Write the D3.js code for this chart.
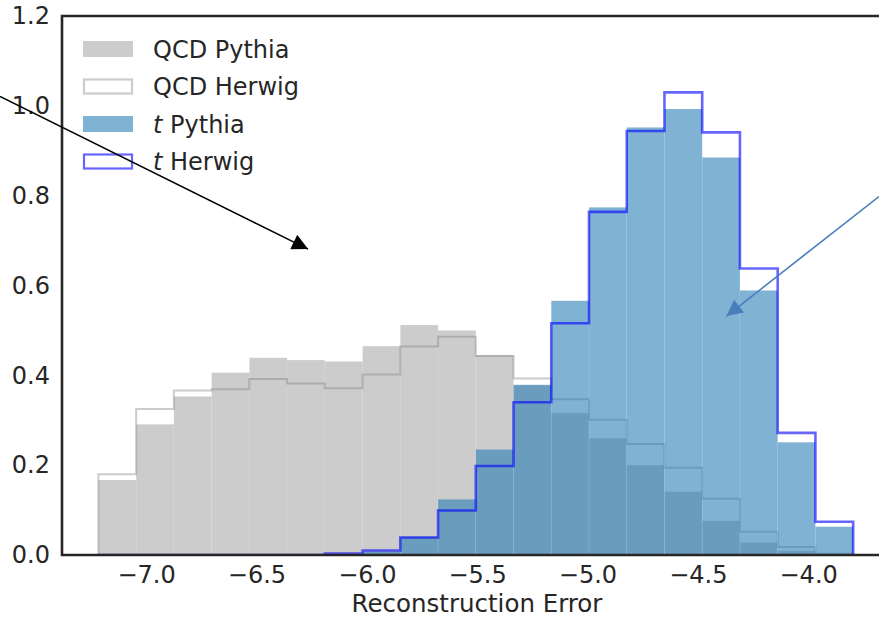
<!DOCTYPE html>
<html>
<head>
<meta charset="utf-8">
<title>Reconstruction Error</title>
<script src="https://d3js.org/d3.v7.min.js"></script>
<style>
body { margin: 0; background: #fff; }
svg text { font-family: "DejaVu Sans", sans-serif; fill: #262626; }
.axis text { font-size: 24px; }
.axis path { display: none; }
</style>
</head>
<body>
<svg width="879" height="620"></svg>
<script>

// bin edges (20 bins) shared by all four histograms
var binEdges = [-7.216, -7.045, -6.874, -6.703, -6.532, -6.361, -6.190, -6.019, -5.848, -5.677,
  -5.506, -5.335, -5.164, -4.993, -4.822, -4.651, -4.480, -4.309, -4.138, -3.967, -3.796];

var qcdPythia = [0.167, 0.291, 0.353, 0.406, 0.439, 0.434, 0.431, 0.465, 0.512, 0.500,
  0.445, 0.378, 0.316, 0.260, 0.200, 0.141, 0.076, 0.028, 0.009, 0.002];
var qcdHerwig = [0.180, 0.325, 0.366, 0.369, 0.392, 0.382, 0.371, 0.402, 0.464, 0.486,
  0.443, 0.393, 0.347, 0.301, 0.247, 0.194, 0.125, 0.052, 0.018, 0.003];
var tPythia = [0, 0, 0, 0, 0, 0, 0.002, 0.008, 0.041, 0.124,
  0.235, 0.379, 0.566, 0.774, 0.952, 0.993, 0.885, 0.589, 0.251, 0.063];
var tHerwig = [0, 0, 0, 0, 0, 0, 0.003, 0.010, 0.039, 0.099,
  0.198, 0.340, 0.516, 0.764, 0.944, 1.030, 0.941, 0.638, 0.272, 0.074];

var xTicks = [-7.0, -6.5, -6.0, -5.5, -5.0, -4.5, -4.0];
var yTicks = [0.0, 0.2, 0.4, 0.6, 0.8, 1.0, 1.2];

var legendItems = [
  {name: "QCD", gen: "Pythia", type: "fill", color: "grey", alpha: 0.4},
  {name: "QCD", gen: "Herwig", type: "step", color: "grey", alpha: 0.4},
  {name: "t", gen: "Pythia", type: "fill", color: "#1f77b4", alpha: 0.57},
  {name: "t", gen: "Herwig", type: "step", color: "blue", alpha: 0.6}
];

// annotation arrows, in data coordinates [x, y]
var arrowBlack = [[-7.662, 1.021], [-6.266, 0.681]];
var arrowBlue = [[-3.679, 0.798], [-4.370, 0.532]];

var svg = d3.select("svg"),
    margin = {top: 16, left: 62, bottom: 65},
    plotRight = 892,
    height = 620 - margin.top - margin.bottom;

var x = d3.scaleLinear()
    .domain([-7.381, -3.62])
    .range([margin.left, plotRight]);

var y = d3.scaleLinear()
    .domain([0, 1.2])
    .range([margin.top + height, margin.top]);

var defs = svg.append("defs");
defs.append("clipPath").attr("id", "plotclip")
  .append("rect")
    .attr("x", margin.left).attr("y", margin.top)
    .attr("width", plotRight - margin.left).attr("height", height);

function arrowMarker(id, color) {
  defs.append("marker")
      .attr("id", id)
      .attr("viewBox", "0 0 10 10")
      .attr("refX", 10).attr("refY", 5)
      .attr("markerUnits", "userSpaceOnUse")
      .attr("markerWidth", 17).attr("markerHeight", 16)
      .attr("orient", "auto")
    .append("path")
      .attr("d", "M0,0L10,5L0,10Z")
      .attr("fill", color);
}
arrowMarker("headBlack", "#000");
arrowMarker("headBlue", "#4a7ebb");

var plot = svg.append("g").attr("clip-path", "url(#plotclip)");

var bins = d3.range(binEdges.length - 1);

function bars(values, color, alpha) {
  plot.append("g")
    .selectAll("rect")
    .data(bins)
    .enter().append("rect")
      .attr("x", function(i) { return x(binEdges[i]); })
      .attr("width", function(i) { return x(binEdges[i + 1]) - x(binEdges[i]); })
      .attr("y", function(i) { return y(values[i]); })
      .attr("height", function(i) { return y(0) - y(values[i]); })
      .attr("fill", color)
      .attr("fill-opacity", alpha)
      .attr("stroke", "#fff")
      .attr("stroke-opacity", 0.12)
      .attr("stroke-width", 0.8);
}

function steps(values, color, alpha, width) {
  var pts = [[binEdges[0], 0]];
  bins.forEach(function(i) {
    pts.push([binEdges[i], values[i]]);
    pts.push([binEdges[i + 1], values[i]]);
  });
  pts.push([binEdges[binEdges.length - 1], 0]);
  plot.append("path")
      .attr("d", d3.line().x(function(d) { return x(d[0]); }).y(function(d) { return y(d[1]); })(pts))
      .attr("fill", "none")
      .attr("stroke", color)
      .attr("stroke-opacity", alpha)
      .attr("stroke-width", width)
      .attr("stroke-linejoin", "miter");
}

bars(qcdPythia, "grey", 0.4);
steps(qcdHerwig, "grey", 0.4, 2);
bars(tPythia, "#1f77b4", 0.57);
steps(tHerwig, "blue", 0.6, 2.6);

// axes (no tick marks, seaborn white style)
svg.append("g")
    .attr("class", "axis")
    .attr("transform", "translate(0," + y(0) + ")")
    .call(d3.axisBottom(x).tickValues(xTicks).tickSize(0).tickPadding(11)
      .tickFormat(function(d) { return d3.format(".1f")(d).replace("-", "\u2212"); }));

svg.append("g")
    .attr("class", "axis")
    .attr("transform", "translate(" + margin.left + ",0)")
    .call(d3.axisLeft(y).tickValues(yTicks).tickSize(0).tickPadding(12).tickFormat(d3.format(".1f")));

// spines: left, bottom, top (right one sits past the window edge)
svg.append("path")
    .attr("d", "M" + plotRight + "," + y(1.2) + "H" + x.range()[0] + "V" + y(0) + "H" + plotRight)
    .attr("fill", "none")
    .attr("stroke", "#262626")
    .attr("stroke-width", 2.6);

svg.append("text")
    .attr("x", (margin.left + plotRight) / 2)
    .attr("y", 612)
    .attr("text-anchor", "middle")
    .style("font-size", "24.5px")
    .text("Reconstruction Error");

// legend
var legend = svg.append("g").attr("transform", "translate(83,49)");
var row = legend.selectAll("g")
    .data(legendItems)
  .enter().append("g")
    .attr("transform", function(d, i) { return "translate(0," + (i * 37.5) + ")"; });

row.append("rect")
    .attr("x", function(d) { return d.type == "step" ? 1 : 0; })
    .attr("y", function(d) { return d.type == "step" ? -7 : -8; })
    .attr("width", function(d) { return d.type == "step" ? 48 : 50; })
    .attr("height", function(d) { return d.type == "step" ? 14 : 16; })
    .attr("fill", function(d) { return d.type == "fill" ? d.color : "#fff"; })
    .attr("fill-opacity", function(d) { return d.type == "fill" ? d.alpha : 1; })
    .attr("stroke", function(d) { return d.type == "step" ? d.color : "none"; })
    .attr("stroke-opacity", function(d) { return d.alpha; })
    .attr("stroke-width", 2.2);

var label = row.append("text")
    .attr("x", 70)
    .attr("dy", "0.36em")
    .style("font-size", "24px");
label.append("tspan")
    .style("font-style", function(d) { return d.name == "t" ? "italic" : "normal"; })
    .text(function(d) { return d.name; });
label.append("tspan").text(function(d) { return " " + d.gen; });

// annotation arrows
function arrow(pts, color, marker) {
  svg.append("line")
      .attr("x1", x(pts[0][0])).attr("y1", y(pts[0][1]))
      .attr("x2", x(pts[1][0])).attr("y2", y(pts[1][1]))
      .attr("stroke", color)
      .attr("stroke-width", 1.6)
      .attr("marker-end", "url(#" + marker + ")");
}
arrow(arrowBlack, "#000", "headBlack");
arrow(arrowBlue, "#4a7ebb", "headBlue");

</script>
</body>
</html>
